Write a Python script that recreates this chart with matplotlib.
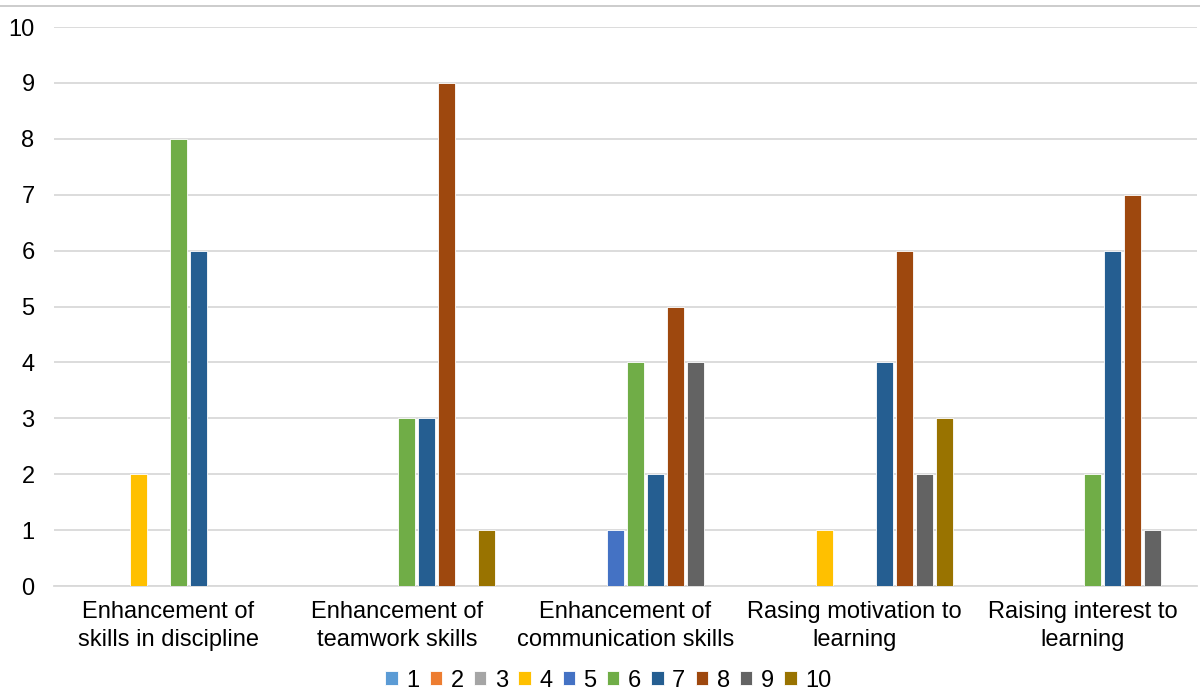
import numpy as np
import matplotlib
matplotlib.use("Agg")
from matplotlib import pyplot as plt
from matplotlib.lines import Line2D

plt.rcParams['font.family'] = ['Liberation Sans', 'DejaVu Sans']

categories = ['Enhancement of\nskills in discipline',
              'Enhancement of\nteamwork skills',
              'Enhancement of\ncommunication skills',
              'Rasing motivation to\nlearning',
              'Raising interest to\nlearning']
series_names = ['1', '2', '3', '4', '5', '6', '7', '8', '9', '10']
colors = ['#5B9BD5', '#ED7D31', '#A5A5A5', '#FFC000', '#4472C4',
          '#70AD47', '#255E91', '#9E480E', '#636363', '#997300']

# rows = series 1..10, columns = categories
values = [
    [0, 0, 0, 0, 0],
    [0, 0, 0, 0, 0],
    [0, 0, 0, 0, 0],
    [2, 0, 0, 1, 0],
    [0, 0, 1, 0, 0],
    [8, 3, 4, 0, 2],
    [6, 3, 2, 4, 6],
    [0, 9, 5, 6, 7],
    [0, 0, 4, 2, 1],
    [0, 1, 0, 3, 0],
]

fig = plt.figure(figsize=(12, 6.93), dpi=100)
ax = fig.add_axes([0.045, 0.1544, 0.9525, 0.8066])

x = np.arange(len(categories))
slot = 0.0875
width = 0.074
for i, (name, vals) in enumerate(zip(series_names, values)):
    ax.bar(x + (i - 4.5) * slot, vals, width, color=colors[i], label=name,
           edgecolor='white', linewidth=0.6, zorder=3)

ax.set_xlim(-0.5, len(categories) - 0.5)
ax.set_ylim(0, 10)
ax.set_yticks(range(0, 11))
ax.yaxis.grid(True, color='#D9D9D9', linewidth=1.3, zorder=0)
ax.set_xticks(x)
ax.set_xticklabels(categories, fontsize=17, linespacing=1.32)
ax.tick_params(axis='both', length=0, labelsize=17, colors='black')
ax.tick_params(axis='y', pad=14)
ax.tick_params(axis='x', pad=11)
for side in ['top', 'right', 'left']:
    ax.spines[side].set_visible(False)
ax.spines['bottom'].set_color('#D9D9D9')
ax.spines['bottom'].set_linewidth(1.3)

leg = fig.legend(loc='center', bbox_to_anchor=(0.507, 0.018), ncol=10,
                 frameon=False, fontsize=17, handlelength=0.52, handleheight=0.52,
                 handletextpad=0.36, columnspacing=0.44, borderaxespad=0)

# chart frame line along the top
fig.add_artist(Line2D([0, 1], [0.9915, 0.9915], transform=fig.transFigure,
                      color='#C8C8C8', linewidth=1.3))

fig.savefig('out.png', dpi=100)
